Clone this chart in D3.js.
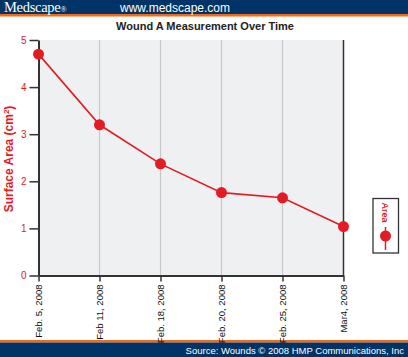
<!DOCTYPE html>
<html><head><meta charset="utf-8">
<script src="https://cdn.jsdelivr.net/npm/d3@7/dist/d3.min.js"></script>
<style>body{margin:0;background:#fff}svg{display:block}</style>
</head><body>
<script>
const categories = ["Feb. 5, 2008","Feb 11, 2008","Feb. 18, 2008","Feb. 20, 2008","Feb. 25, 2008","Mar4, 2008"];
const areaValues = [4.7, 3.2, 2.37, 1.76, 1.65, 1.04];
const yTicks = [0,1,2,3,4,5];

const W = 408, H = 357;
const svg = d3.select("body").append("svg").attr("width", W).attr("height", H);
const navy = "#003466", orange = "#f26b1d", red = "#e31b23";

// header
svg.append("rect").attr("x",0).attr("y",0).attr("width",W).attr("height",14).attr("fill",navy);
svg.append("rect").attr("x",0).attr("y",14).attr("width",W).attr("height",2.5).attr("fill",orange);
svg.append("text").attr("x",4).attr("y",12).attr("fill","#fff")
  .attr("font-family","Liberation Serif, serif").attr("font-size",14.5).attr("letter-spacing",-0.3).text("Medscape")
  .append("tspan").attr("font-size",8).text("®");
svg.append("text").attr("x",120).attr("y",11.5).attr("fill","#fff")
  .attr("font-family","Liberation Sans, Arial, sans-serif").attr("font-size",12).text("www.medscape.com");

// footer
svg.append("rect").attr("x",0).attr("y",340).attr("width",W).attr("height",2.5).attr("fill",orange);
svg.append("rect").attr("x",0).attr("y",342.5).attr("width",W).attr("height",H-342.5).attr("fill",navy);
svg.append("text").attr("x",404).attr("y",354).attr("text-anchor","end").attr("fill","#fff")
  .attr("font-family","Liberation Sans, Arial, sans-serif").attr("font-size",9.5)
  .text("Source: Wounds © 2008 HMP Communications, Inc");

// title
svg.append("text").attr("x",205).attr("y",30).attr("text-anchor","middle").attr("fill","#222")
  .attr("font-family","Liberation Sans, Arial, sans-serif").attr("font-weight","bold").attr("font-size",11)
  .text("Wound A Measurement Over Time");

const x = d3.scalePoint().domain(categories).range([38.5, 343.5]);
const y = d3.scaleLinear().domain([0,5]).range([275.5, 40]);

// plot background
svg.append("rect").attr("x",38.5).attr("y",40).attr("width",305).attr("height",235.5).attr("fill","#eff0f2");

// vertical gridlines
svg.append("g").selectAll("line").data(categories.slice(1,-1)).join("line")
  .attr("x1",d=>x(d)).attr("x2",d=>x(d)).attr("y1",40).attr("y2",275.5)
  .attr("stroke","#c6c7c9").attr("stroke-width",1.2);

// right border
svg.append("line").attr("x1",343.5).attr("x2",343.5).attr("y1",40).attr("y2",275.5)
  .attr("stroke","#333").attr("stroke-width",1.5);

// y axis
const yAxis = svg.append("g").attr("transform","translate(38.5,0)")
  .call(d3.axisLeft(y).tickValues(yTicks).tickFormat(d3.format("d")).tickSize(9).tickSizeOuter(0));
yAxis.select(".domain").attr("stroke","#333").attr("stroke-width",2);
yAxis.selectAll(".tick line").attr("stroke","#333").attr("stroke-width",1.5);
yAxis.selectAll(".tick text").attr("fill",red).attr("font-family","Liberation Sans, Arial, sans-serif")
  .attr("font-size",10).attr("x",-12);

// x axis
const xAxis = svg.append("g").attr("transform","translate(0,275.5)")
  .call(d3.axisBottom(x).tickSize(6).tickSizeOuter(0));
xAxis.select(".domain").attr("stroke","#333").attr("stroke-width",1.8);
xAxis.selectAll(".tick line").attr("stroke","#333").attr("stroke-width",1.5);
xAxis.selectAll(".tick text").attr("fill","#111").attr("font-family","Liberation Sans, Arial, sans-serif")
  .attr("font-size",9.5).attr("transform","rotate(-90)").attr("text-anchor","end")
  .attr("x",-9).attr("y",0).attr("dy","0.35em");

// y axis title
svg.append("text").attr("transform","translate(13,159) rotate(-90)").attr("text-anchor","middle")
  .attr("fill",red).attr("font-family","Liberation Sans, Arial, sans-serif").attr("font-weight","bold")
  .attr("font-size",12).text("Surface Area (cm")
  .append("tspan").attr("font-size",8).attr("dy",-4).text("2")
  .select(function(){return this.parentNode;}).append("tspan").attr("dy",4).text(")");

// line
const line = d3.line().x((d,i)=>x(categories[i])).y(d=>y(d));
svg.append("path").datum(areaValues).attr("d",line).attr("fill","none").attr("stroke",red).attr("stroke-width",1.6);
svg.append("g").selectAll("circle").data(areaValues).join("circle")
  .attr("cx",(d,i)=>x(categories[i])).attr("cy",d=>y(d)).attr("r",5.5).attr("fill",red);

// legend
svg.append("rect").attr("x",373).attr("y",198.5).attr("width",25.5).attr("height",54.5)
  .attr("fill","#fff").attr("stroke","#333").attr("stroke-width",1.3);
svg.append("text").attr("transform","translate(385.5,212.5) rotate(90)").attr("text-anchor","middle")
  .attr("dy","0.35em").attr("fill",red).attr("font-family","Liberation Sans, Arial, sans-serif")
  .attr("font-weight","bold").attr("font-size",9).text("Area");
svg.append("line").attr("x1",385.5).attr("x2",385.5).attr("y1",227).attr("y2",250)
  .attr("stroke",red).attr("stroke-width",1.5);
svg.append("circle").attr("cx",385.5).attr("cy",236).attr("r",5.5).attr("fill",red);
</script>
</body></html>
